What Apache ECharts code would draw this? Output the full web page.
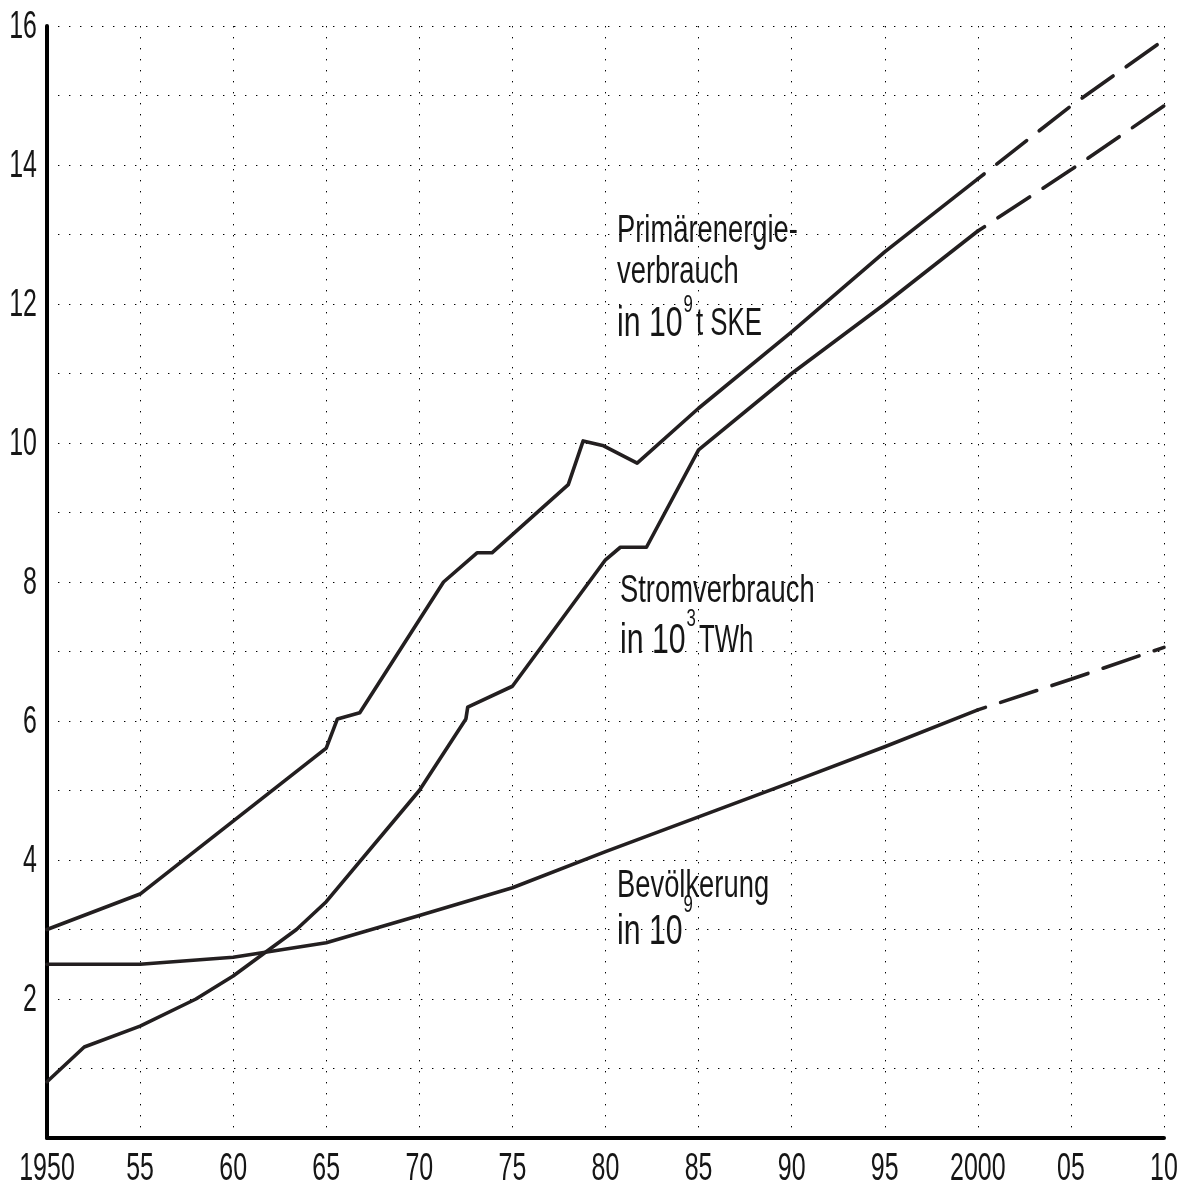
<!DOCTYPE html>
<html>
<head>
<meta charset="utf-8">
<script src="https://cdn.jsdelivr.net/npm/echarts@6/dist/echarts.min.js"></script>
<style>
html,body{margin:0;padding:0;background:#fff;}
#chart{width:1194px;height:1191px;}
</style>
</head>
<body>
<div id="chart"></div>
<script>
// ---- data ----
const xTicks = [1950,1955,1960,1965,1970,1975,1980,1985,1990,1995,2000,2005,2010];
const xTickLabels = ['1950','55','60','65','70','75','80','85','90','95','2000','05','10'];
const yTicks = [2,4,6,8,10,12,14,16];
const yTickLabels = ['2','4','6','8','10','12','14','16'];

const primYears  = [1950,1955,1965,1965.6,1966.8,1971.3,1973.1,1973.9,1978.0,1978.8,1979.9,1981.7,1985,1990,1995,2000,2005,2010];
const primValues = [3.0,3.51,5.61,6.03,6.12,8.0,8.42,8.42,9.4,10.03,9.96,9.71,10.5,11.6,12.75,13.8,14.85,15.8];

const stromYears  = [1950,1952,1955,1958,1960,1963.4,1965,1970,1972.5,1972.6,1975,1980,1980.8,1982.2,1985,1990,1995,2000,2005,2010];
const stromValues = [0.81,1.31,1.61,2.0,2.33,3.0,3.4,5.0,6.03,6.2,6.5,8.32,8.5,8.5,9.9,11.0,12.0,13.05,13.93,14.85];

const bevYears  = [1950,1955,1960,1965,1970,1975,1980,1985,1990,1995,2000,2005,2010];
const bevValues = [2.5,2.5,2.6,2.81,3.2,3.6,4.12,4.62,5.12,5.63,6.16,6.6,7.06];

const forecastStart = 2000;

// ---- helpers ----
function pairs(xs, ys, from, to){
  const out = [];
  for (let i=0;i<xs.length;i++){ if (xs[i]>=from && xs[i]<=to) out.push([xs[i], ys[i]]); }
  return out;
}
const INK = '#231f20';
function solid(name, xs, ys){
  return {name, type:'line', data: pairs(xs, ys, -Infinity, forecastStart), showSymbol:false, silent:true,
    lineStyle:{color:INK, width:3.6, cap:'round', join:'round'}, z:5};
}
function dashed(name, xs, ys){
  return {name, type:'line', data: pairs(xs, ys, forecastStart, Infinity), showSymbol:false, silent:true,
    lineStyle:{color:INK, width:3.6, type:[38,16], dashOffset:30, cap:'round'}, z:5};
}

const AFONT = '"Liberation Sans", Arial, sans-serif';
const TEXT_COLOR = '#161616';
const ctx = document.createElement('canvas').getContext('2d');
function tw(t, size, sx){ ctx.font = size + 'px ' + AFONT; return ctx.measureText(t).width * sx; }
function txt(t, x, y, size, sx){
  return {type:'text', x, y, scaleX:sx, scaleY:1, silent:true,
    style:{text:t, x:0, y:0, fill:TEXT_COLOR, font: size + 'px ' + AFONT, textVerticalAlign:'top', textAlign:'left'}};
}
const SX = 0.72;
// a line "in 10^n rest"
function supLine(x, y, size, supText, supY, supSize, rest, restY){
  const els = [txt('in 10', x, y, size, SX)];
  const xs = x + tw('in 10', size, SX) + 1;
  els.push(txt(supText, xs, supY, supSize, 0.7));
  if (rest) els.push(txt(rest, xs + tw(supText, supSize, 0.7) + 3, restY, 38, 0.68));
  return els;
}

const graphics = [].concat(
  [txt('Primärenergie-', 617, 213, 38, SX), txt('verbrauch', 617, 254, 38, SX)],
  supLine(617, 303, 42, '9', 293, 24, 't SKE', 306),
  [txt('Stromverbrauch', 620, 573, 38, SX)],
  supLine(620, 620, 42, '3', 607, 24, 'TWh', 623),
  [txt('Bevölkerung', 617, 868, 38, SX)],
  supLine(617, 911, 42, '9', 893, 24, null)
);

const dotted = {color:'#000', width:1, type:[1.4, 9.6]};
const TICK_SIZE = 39, TICK_SX = 0.64;

function tickLabelSeries(name, ticks, labels, isX){
  return {
    name, type:'custom', silent:true, clip:false, z:10,
    data: ticks.map((t,i) => [t, i]),
    encode: isX ? {x:0} : {y:0},
    renderItem: (params, api) => {
      const v = api.value(0), i = api.value(1);
      const p = isX ? api.coord([v, 0]) : api.coord([1950, v]);
      return {
        type:'text',
        x: isX ? p[0] : p[0] - 10,
        y: isX ? p[1] + 12 : p[1] + 1,
        scaleX: TICK_SX, scaleY: 1,
        style:{text: labels[i], x:0, y:0, fill:TEXT_COLOR, font: TICK_SIZE + 'px ' + AFONT,
               textAlign: isX ? 'center' : 'right', textVerticalAlign: isX ? 'top' : 'middle'}
      };
    }
  };
}

const chart = echarts.init(document.getElementById('chart'), null, {renderer:'canvas'});
chart.setOption({
  animation:false,
  backgroundColor:'#fff',
  grid:{left:47, right:30, top:26, bottom:53, containLabel:false, outerBoundsMode:'none'},
  xAxis:{
    type:'value', min:1950, max:2010, interval:5,
    axisLine:{show:true, onZero:false, lineStyle:{color:'#000', width:4}},
    axisTick:{show:false},
    axisLabel:{show:false},
    splitLine:{show:true, lineStyle:dotted}
  },
  yAxis:{
    type:'value', min:0, max:16, interval:1,
    axisLine:{show:true, lineStyle:{color:'#000', width:4}},
    axisTick:{show:false},
    axisLabel:{show:false},
    splitLine:{show:true, lineStyle:dotted}
  },
  series:[
    solid('Primärenergieverbrauch', primYears, primValues),
    dashed('Primärenergieverbrauch Prognose', primYears, primValues),
    solid('Stromverbrauch', stromYears, stromValues),
    dashed('Stromverbrauch Prognose', stromYears, stromValues),
    solid('Bevölkerung', bevYears, bevValues),
    dashed('Bevölkerung Prognose', bevYears, bevValues),
    tickLabelSeries('x-Achse', xTicks, xTickLabels, true),
    tickLabelSeries('y-Achse', yTicks, yTickLabels, false)
  ],
  graphic: graphics
});
</script>
</body>
</html>
